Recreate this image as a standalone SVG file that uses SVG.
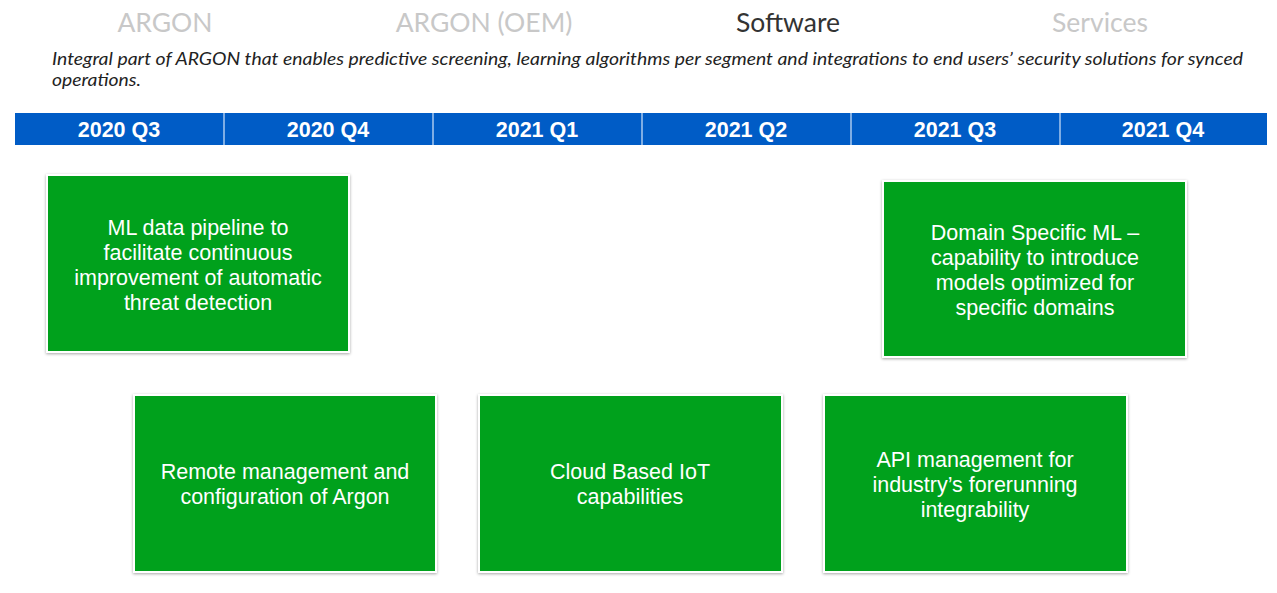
<svg xmlns="http://www.w3.org/2000/svg" width="1277" height="593" viewBox="0 0 1277 593">
<defs>
<filter id="sh" x="-5%" y="-5%" width="110%" height="115%">
<feDropShadow dx="0" dy="1" stdDeviation="1.5" flood-color="#000" flood-opacity="0.35"/>
</filter>
<style>
.tab{font-family:Lato,"Open Sans",sans-serif;font-size:26.5px;text-anchor:middle;fill:#c8c8c8}
.tab.on{fill:#333333}
.sub{font-family:Lato,"Open Sans",sans-serif;font-style:italic;font-size:17px;fill:#222222}
.hdr{fill:#005cc6}
.div{stroke:#a9c8ee;stroke-width:1.5}
.q{font-family:"Liberation Sans",Arial,sans-serif;font-weight:bold;font-size:21.5px;fill:#ffffff;text-anchor:middle}
.box{fill:#00a11f;stroke:#ffffff;stroke-width:2;filter:url(#sh)}
.bt{font-family:"Liberation Sans",Arial,sans-serif;font-size:21.5px;fill:#ffffff;text-anchor:middle}
</style>
</defs>
<rect width="1277" height="593" fill="#ffffff"/>
<g id="tabs">
<text class="tab" x="165" y="32">ARGON</text>
<text class="tab" x="484" y="32">ARGON (OEM)</text>
<text class="tab on" x="788" y="32">Software</text>
<text class="tab" x="1100" y="32">Services</text>
</g>
<g id="subtitle">
<text class="sub" x="52" y="65" textLength="1191" lengthAdjust="spacingAndGlyphs">Integral part of ARGON that enables predictive screening, learning algorithms per segment and integrations to end users’ security solutions for synced</text>
<text class="sub" x="52" y="86" textLength="89" lengthAdjust="spacingAndGlyphs">operations.</text>
</g>
<g id="timeline">
<rect class="hdr" x="15" y="113" width="1252" height="32"/>
<line class="div" x1="224" y1="113" x2="224" y2="145"/>
<line class="div" x1="433" y1="113" x2="433" y2="145"/>
<line class="div" x1="642" y1="113" x2="642" y2="145"/>
<line class="div" x1="851" y1="113" x2="851" y2="145"/>
<line class="div" x1="1060" y1="113" x2="1060" y2="145"/>
<text class="q" x="119" y="137">2020 Q3</text>
<text class="q" x="328" y="137">2020 Q4</text>
<text class="q" x="537" y="137">2021 Q1</text>
<text class="q" x="746" y="137">2021 Q2</text>
<text class="q" x="955" y="137">2021 Q3</text>
<text class="q" x="1163" y="137">2021 Q4</text>
</g>
<g id="node-ml-pipeline">
<rect class="box" x="47" y="175" width="302" height="177"/>
<text class="bt" x="198" y="235">ML data pipeline to</text>
<text class="bt" x="198" y="260">facilitate continuous</text>
<text class="bt" x="198" y="285">improvement of automatic</text>
<text class="bt" x="198" y="310">threat detection</text>
</g>
<g id="node-domain-ml">
<rect class="box" x="883" y="181" width="303" height="176"/>
<text class="bt" x="1035" y="240">Domain Specific ML –</text>
<text class="bt" x="1035" y="265">capability to introduce</text>
<text class="bt" x="1035" y="290">models optimized for</text>
<text class="bt" x="1035" y="315">specific domains</text>
</g>
<g id="node-remote">
<rect class="box" x="134" y="395" width="302" height="177"/>
<text class="bt" x="285" y="479">Remote management and</text>
<text class="bt" x="285" y="504">configuration of Argon</text>
</g>
<g id="node-cloud">
<rect class="box" x="479" y="395" width="303" height="177"/>
<text class="bt" x="630" y="479">Cloud Based IoT</text>
<text class="bt" x="630" y="504">capabilities</text>
</g>
<g id="node-api">
<rect class="box" x="824" y="395" width="303" height="177"/>
<text class="bt" x="975" y="467">API management for</text>
<text class="bt" x="975" y="492">industry’s forerunning</text>
<text class="bt" x="975" y="517">integrability</text>
</g>
<g id="connectors"/>
</svg>
